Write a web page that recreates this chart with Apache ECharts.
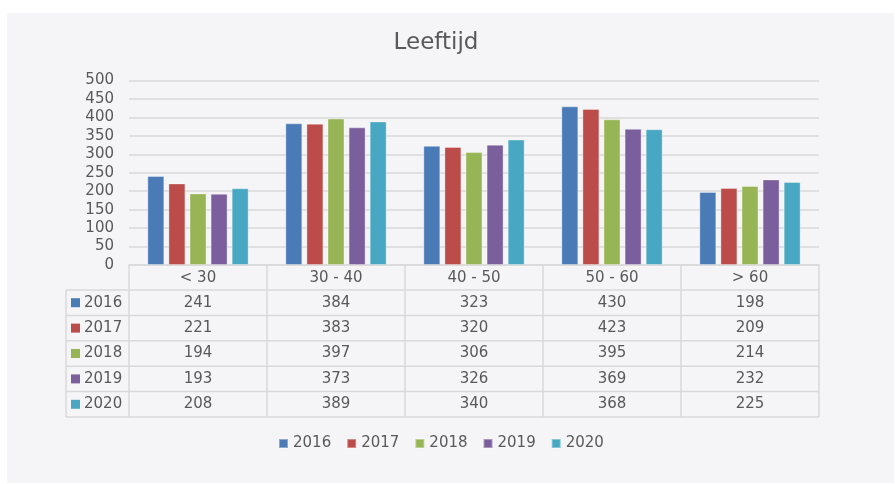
<!DOCTYPE html>
<html>
<head>
<meta charset="utf-8">
<script src="https://cdn.jsdelivr.net/npm/echarts@6/dist/echarts.min.js"></script>
<style>
  html, body { margin: 0; padding: 0; background: #ffffff; }
  #wrap { position: relative; width: 895px; height: 484px; }
  #bg { position: absolute; left: 7px; top: 13px; width: 887px; height: 470px; background: #f5f5f7; }
  #chart { position: absolute; left: 0; top: 0; width: 895px; height: 484px; }
</style>
</head>
<body>
<div id="wrap">
  <div id="bg"></div>
  <div id="chart"></div>
</div>
<script>
// data
const categories = ['< 30', '30 - 40', '40 - 50', '50 - 60', '> 60'];
const years = ['2016', '2017', '2018', '2019', '2020'];
const v2016 = [241, 384, 323, 430, 198];
const v2017 = [221, 383, 320, 423, 209];
const v2018 = [194, 397, 306, 395, 214];
const v2019 = [193, 373, 326, 369, 232];
const v2020 = [208, 389, 340, 368, 225];
const yearValues = [v2016, v2017, v2018, v2019, v2020];
const colors = ['#4a7bb7', '#bb4c4a', '#98b555', '#7a5f9c', '#48a7c2'];

const textColor = '#595959';
const lineColor = '#d9d9d9';
const font = 'DejaVu Sans, Verdana, sans-serif';

const myChart = echarts.init(document.getElementById('chart'), null, { renderer: 'canvas' });

const option = {
  animation: false,
  backgroundColor: 'transparent',
  color: colors,
  title: {
    text: 'Leeftijd',
    left: 436,
    textAlign: 'center',
    top: 32,
    padding: 0,
    textStyle: { color: textColor, fontFamily: font, fontSize: 23, fontWeight: 'normal' }
  },
  legend: {
    data: years,
    left: 278,
    top: 436,
    padding: 0,
    itemWidth: 9,
    itemHeight: 9,
    itemGap: 15,
    icon: 'rect',
    textStyle: { color: textColor, fontFamily: font, fontSize: 15 }
  },
  grid: { left: 129, right: 76, top: 80.5, bottom: 219, containLabel: false },
  xAxis: {
    type: 'category',
    data: categories,
    axisLine: { show: true, lineStyle: { color: lineColor, width: 1.5 } },
    axisTick: { show: false },
    axisLabel: { color: textColor, fontFamily: font, fontSize: 15, margin: 6 }
  },
  yAxis: {
    type: 'value',
    min: 0,
    max: 500,
    interval: 50,
    axisLine: { show: false },
    axisTick: { show: false },
    axisLabel: { color: textColor, fontFamily: font, fontSize: 15, margin: 15 },
    splitLine: { lineStyle: { color: lineColor, width: 1.5 } }
  },
  series: years.map((y, i) => ({
    name: y,
    type: 'bar',
    data: yearValues[i],
    barWidth: 17,
    barGap: '24%',
    itemStyle: { borderColor: 'rgba(255,255,255,0.35)', borderWidth: 1 }
  }))
};

myChart.setOption(option);

// data table under the axis, laid out from the axis scale
function drawTable() {
  const c0 = myChart.convertToPixel({ xAxisIndex: 0 }, categories[0]);
  const c1 = myChart.convertToPixel({ xAxisIndex: 0 }, categories[1]);
  const band = c1 - c0;
  const xLeft = c0 - band / 2;
  const xRight = xLeft + band * categories.length;
  const yTop = myChart.convertToPixel({ yAxisIndex: 0 }, 0);
  const headH = 25;
  const rowH = 25.4;
  const labelLeft = 66;
  const yBottom = yTop + headH + rowH * years.length;
  const els = [];
  const line = (x1, y1, x2, y2) => els.push({
    type: 'line',
    shape: { x1, y1, x2, y2 },
    style: { stroke: lineColor, lineWidth: 1.5 },
    silent: true
  });

  // horizontal lines
  for (let r = 0; r <= years.length; r++) {
    const y = yTop + headH + rowH * r;
    line(labelLeft, y, xRight, y);
  }
  // vertical lines
  line(labelLeft, yTop + headH, labelLeft, yBottom);
  for (let k = 0; k <= categories.length; k++) {
    const x = xLeft + band * k;
    line(x, yTop, x, yBottom);
  }

  years.forEach((yr, r) => {
    const cy = yTop + headH + rowH * r + rowH / 2;
    els.push({
      type: 'rect',
      shape: { x: 71, y: cy - 4.5, width: 9, height: 9 },
      style: { fill: colors[r] },
      silent: true
    });
    els.push({
      type: 'text',
      x: 84, y: cy,
      style: { text: yr, fill: textColor, font: '15px ' + font, verticalAlign: 'middle', align: 'left' },
      silent: true
    });
    yearValues[r].forEach((v, k) => {
      els.push({
        type: 'text',
        x: myChart.convertToPixel({ xAxisIndex: 0 }, categories[k]),
        y: cy,
        style: { text: String(v), fill: textColor, font: '15px ' + font, verticalAlign: 'middle', align: 'center' },
        silent: true
      });
    });
  });

  myChart.setOption({ graphic: { elements: els } });
}

drawTable();
</script>
</body>
</html>
